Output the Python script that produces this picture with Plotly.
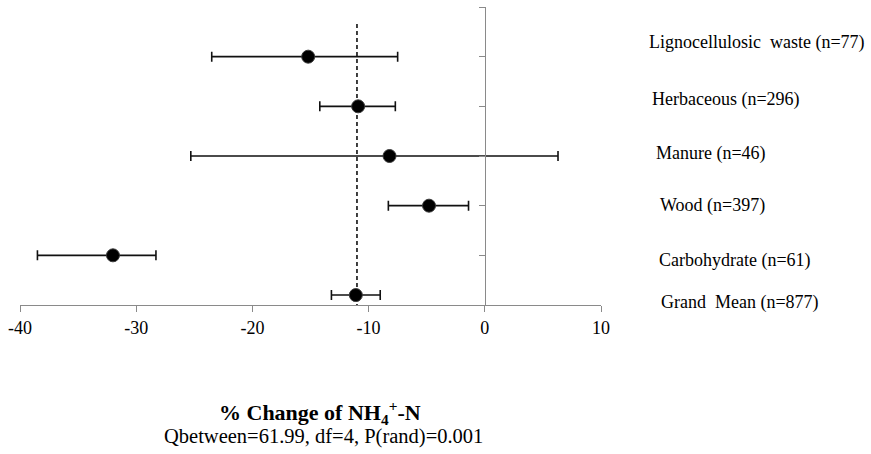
import plotly.graph_objects as go

categories = ["Lignocellulosic\u00a0 waste (n=77)", "Herbaceous (n=296)", "Manure (n=46)",
              "Wood (n=397)", "Carbohydrate (n=61)", "Grand\u00a0 Mean (n=877)"]
mean_change = [-15.2, -10.9, -8.2, -4.8, -32.0, -11.1]
ci_lower = [-23.5, -14.2, -25.3, -8.3, -38.5, -13.2]
ci_upper = [-7.5, -7.7, 6.3, -1.4, -28.3, -9.0]
row_pos = [5, 4, 3, 2, 1, 0.2]
x_ticks = [-40, -30, -20, -10, 0, 10]
x_tick_text = ["-40", "-30", "-20", "-10", "0", "10"]
grand_mean_line = -11.0

# label placement (layout)
label_x = [1.0792, 1.0843, 1.0912, 1.0981, 1.0964, 1.0998]
label_y = [5.29, 4.13, 3.06, 2.0, 0.89, 0.05]

err_plus = [u - m for u, m in zip(ci_upper, mean_change)]
err_minus = [m - l for m, l in zip(mean_change, ci_lower)]

FONT = "Liberation Serif, Times New Roman, serif"
AXIS_GRAY = "#8a8a8a"

fig = go.Figure()
fig.add_trace(go.Scatter(
    x=[grand_mean_line, grand_mean_line], y=[5.66, -0.06],
    mode="lines", line=dict(color="black", width=1.5, dash="4px,3px"),
    hoverinfo="skip", showlegend=False, cliponaxis=False))
fig.add_trace(go.Scatter(
    x=mean_change, y=row_pos, mode="markers",
    marker=dict(color="black", size=13, line=dict(color="#3a3a3a", width=1)),
    error_x=dict(type="data", symmetric=False, array=err_plus, arrayminus=err_minus,
                 color="#111", thickness=1.6, width=5),
    showlegend=False, cliponaxis=False))

annotations = []
for name, lx, ly in zip(categories, label_x, label_y):
    annotations.append(dict(text=name, x=lx, y=ly, xref="paper", yref="y",
                            xanchor="left", yanchor="middle", showarrow=False,
                            font=dict(family=FONT, size=18, color="black")))
annotations.append(dict(text="<b>% Change of NH<sub>4</sub><sup>+</sup>-N</b>",
                        x=0.5155, y=-0.362, xref="paper", yref="paper",
                        xanchor="center", yanchor="middle", showarrow=False,
                        font=dict(family=FONT, size=22, color="black")))
annotations.append(dict(text="Qbetween=61.99, df=4, P(rand)=0.001",
                        x=0.523, y=-0.44, xref="paper", yref="paper",
                        xanchor="center", yanchor="middle", showarrow=False,
                        font=dict(family=FONT, size=20.5, color="black")))

fig.update_layout(
    width=871, height=454,
    margin=dict(l=20, r=270, t=7, b=149, autoexpand=False),
    paper_bgcolor="white", plot_bgcolor="white",
    font=dict(family=FONT, size=18, color="black"),
    xaxis=dict(range=[-40, 10], tickvals=x_ticks, ticktext=x_tick_text,
               ticks="outside", ticklen=6, tickwidth=1.3,
               tickcolor=AXIS_GRAY, showline=True, linecolor=AXIS_GRAY, linewidth=1.3,
               showgrid=False, zeroline=False, automargin=False,
               tickfont=dict(family=FONT, size=18, color="black")),
    yaxis=dict(range=[0, 6], tickvals=[1, 2, 3, 4, 5, 6], ticks="outside", ticklen=6,
               tickwidth=1.3, tickcolor=AXIS_GRAY, showline=True, linecolor=AXIS_GRAY,
               linewidth=1.3, showticklabels=False, showgrid=False, zeroline=False,
               anchor="free", position=0.8, side="left", automargin=False),
    annotations=annotations,
)

fig.write_html("out.html", config={"displayModeBar": False},
               post_script="document.body.style.margin='0';document.body.style.overflow='hidden';")
